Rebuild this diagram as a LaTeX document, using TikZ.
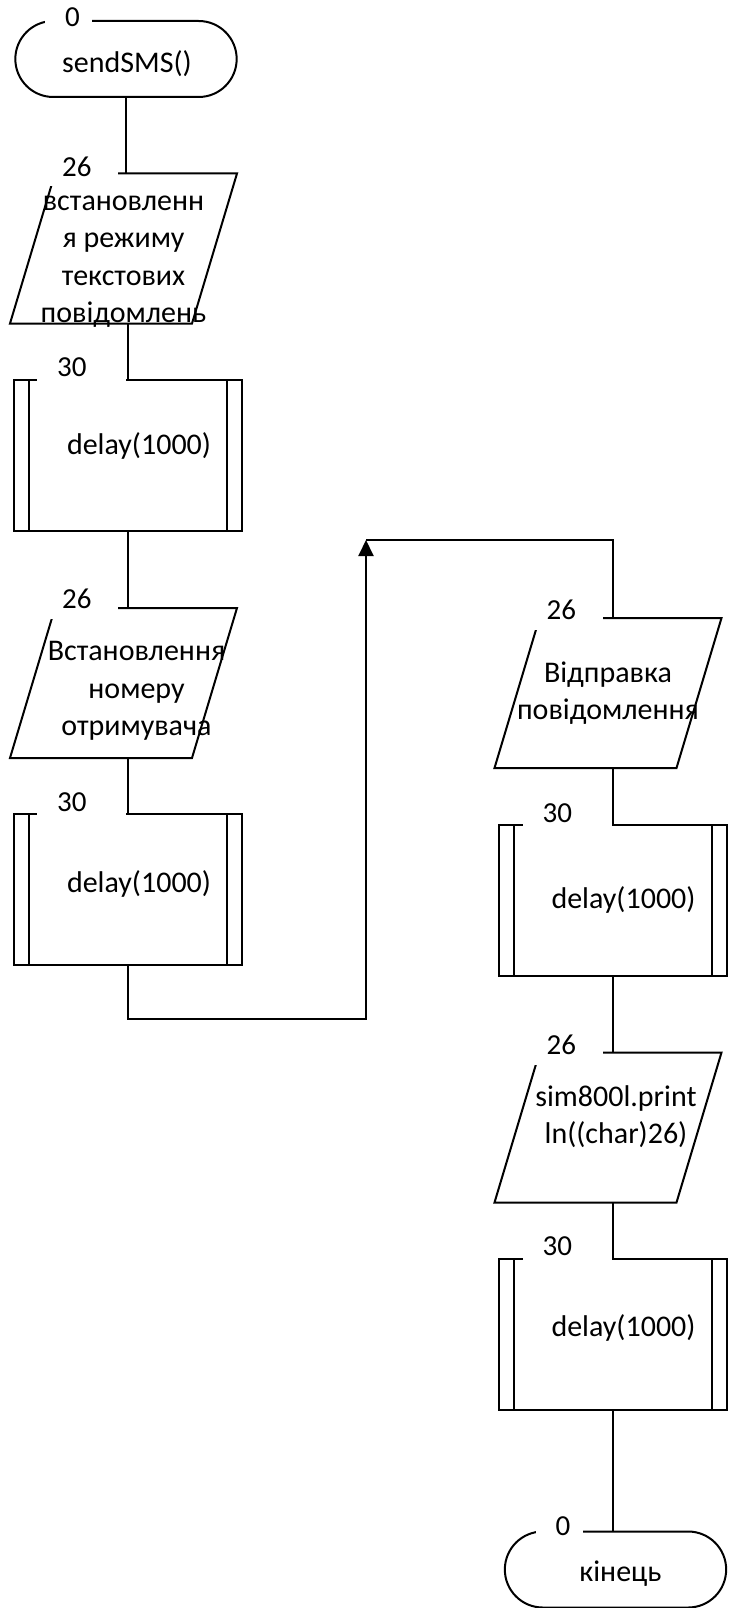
\documentclass[tikz,border=0pt]{standalone}
\usepackage{fontspec}
\setmainfont{Carlito}
\usetikzlibrary{shapes.misc,arrows.meta,calc}

\tikzset{
  base/.style={draw, line width=2pt},
  term/.style={base, rounded rectangle, minimum width=228pt, minimum height=76pt},
  io/.style={base, draw=none, rectangle, minimum width=231pt, minimum height=154pt, outer sep=-2pt,
    path picture={\draw[line width=2pt]
      ([shift={(2pt,2pt)}]path picture bounding box.south west) --
      ([shift={(47pt,-2pt)}]path picture bounding box.north west) --
      ([shift={(-2pt,-2pt)}]path picture bounding box.north east) --
      ([shift={(-47pt,2pt)}]path picture bounding box.south east) -- cycle;}},
  proc/.style={base, rectangle, minimum width=228pt, minimum height=151pt,
    path picture={\draw[line width=2pt]
      ([xshift=15pt]path picture bounding box.north west) -- ([xshift=15pt]path picture bounding box.south west)
      ([xshift=-15pt]path picture bounding box.north east) -- ([xshift=-15pt]path picture bounding box.south east);}},
  txt/.style={font=\fontsize{30}{37.5}\selectfont, align=center, inner sep=0pt},
  num/.style={fill=white, font=\fontsize{29}{35}\selectfont, inner xsep=20pt, inner ysep=0pt,
    minimum height=40pt, align=left, anchor=west},
  line/.style={line width=2pt},
}

\begin{document}
\begin{tikzpicture}[x=1pt,y=1pt]
  \useasboundingbox (0,0) rectangle (728,-1608);
  % left column
  \node[term] (start) at (126,-59) {};
  \node[io] (mode) at ($(start)+(-2.5,-189.5)$) {};
  \node[proc] (wait1) at ($(mode)+(4.5,-207)$) {};
  \node[io] (number) at ($(wait1)+(-4.5,-227.5)$) {};
  \node[proc] (wait2) at ($(number)+(4.5,-206.5)$) {};
  % right column
  \node[io] (send) at (608,-693) {};
  \node[proc] (wait3) at ($(send)+(4.5,-207)$) {};
  \node[io] (ctrlz) at ($(wait3)+(-4.5,-227.5)$) {};
  \node[proc] (wait4) at ($(ctrlz)+(4.5,-206.5)$) {};
  \node[term] (stop) at ($(wait4)+(3,-235.5)$) {};

  % texts
  \node[txt] (start-t) at ($(start)+(1,-5)$) {sendSMS()};
  \node[txt] (mode-t) at ($(mode)+(0,-13)$) {встановленн\\я режиму\\текстових\\повідомлень};
  \node[txt] (wait1-t) at ($(wait1)+(11,10)$) {delay(1000)};
  \node[txt] (number-t) at ($(number)+(13,-8)$) {Встановлення\\номеру\\отримувача};
  \node[txt] (wait2-t) at ($(wait2)+(11,6)$) {delay(1000)};
  \node[txt] (send-t) at (send) {Відправка\\повідомлення};
  \node[txt] (wait3-t) at ($(wait3)+(11,0)$) {delay(1000)};
  \node[txt] (ctrlz-t) at ($(ctrlz)+(8,11)$) {sim800l.print\\ln((char)26)};
  \node[txt] (wait4-t) at ($(wait4)+(11,6)$) {delay(1000)};
  \node[txt] (stop-t) at ($(stop)+(5,-4)$) {кінець};

  % numbers on the blocks
  \node[num, text width=7pt] (n0) at ($(start.north)+(-81,3)$) {0};
  \node[num, text width=36pt] (n1) at ($(mode.north west)+(32,7)$) {26};
  \node[num, text width=49pt] (n2) at ($(wait1.north west)+(24,12)$) {30};
  \node[num, text width=36pt] (n3) at ($(number.north west)+(32,9)$) {26};
  \node[num, text width=49pt] (n4) at ($(wait2.north west)+(24,11)$) {30};
  \node[num, text width=36pt] (n5) at ($(send.north west)+(32,8)$) {26};
  \node[num, text width=49pt] (n6) at ($(wait3.north west)+(25,10)$) {30};
  \node[num, text width=36pt] (n7) at ($(ctrlz.north west)+(32,8)$) {26};
  \node[num, text width=49pt] (n8) at ($(wait4.north west)+(25,11)$) {30};
  \node[num, text width=7pt] (n9) at ($(stop.north)+(-80,4)$) {0};

  \coordinate (up) at (366,-540);
  \draw[line] (start.south) -- (start.south |- mode.north);
  \draw[line] (wait1.north |- mode.south) -- (wait1.north);
  \draw[line] (wait1.south) -- (wait1.south |- number.north);
  \draw[line] (wait2.north |- number.south) -- (wait2.north);
  \draw[line, -{Triangle[width=15pt,length=16pt]}] (wait2.south) -- ++(0,-53) -| (up);
  \draw[line] (up) -| (wait3.north |- send.north);
  \draw[line] (wait3.north |- send.south) -- (wait3.north);
  \draw[line] (wait3.south) -- (wait3.south |- ctrlz.north);
  \draw[line] (wait4.north |- ctrlz.south) -- (wait4.north);
  \draw[line] (wait4.south) -- (wait4.south |- stop.north);
\end{tikzpicture}
\end{document}
